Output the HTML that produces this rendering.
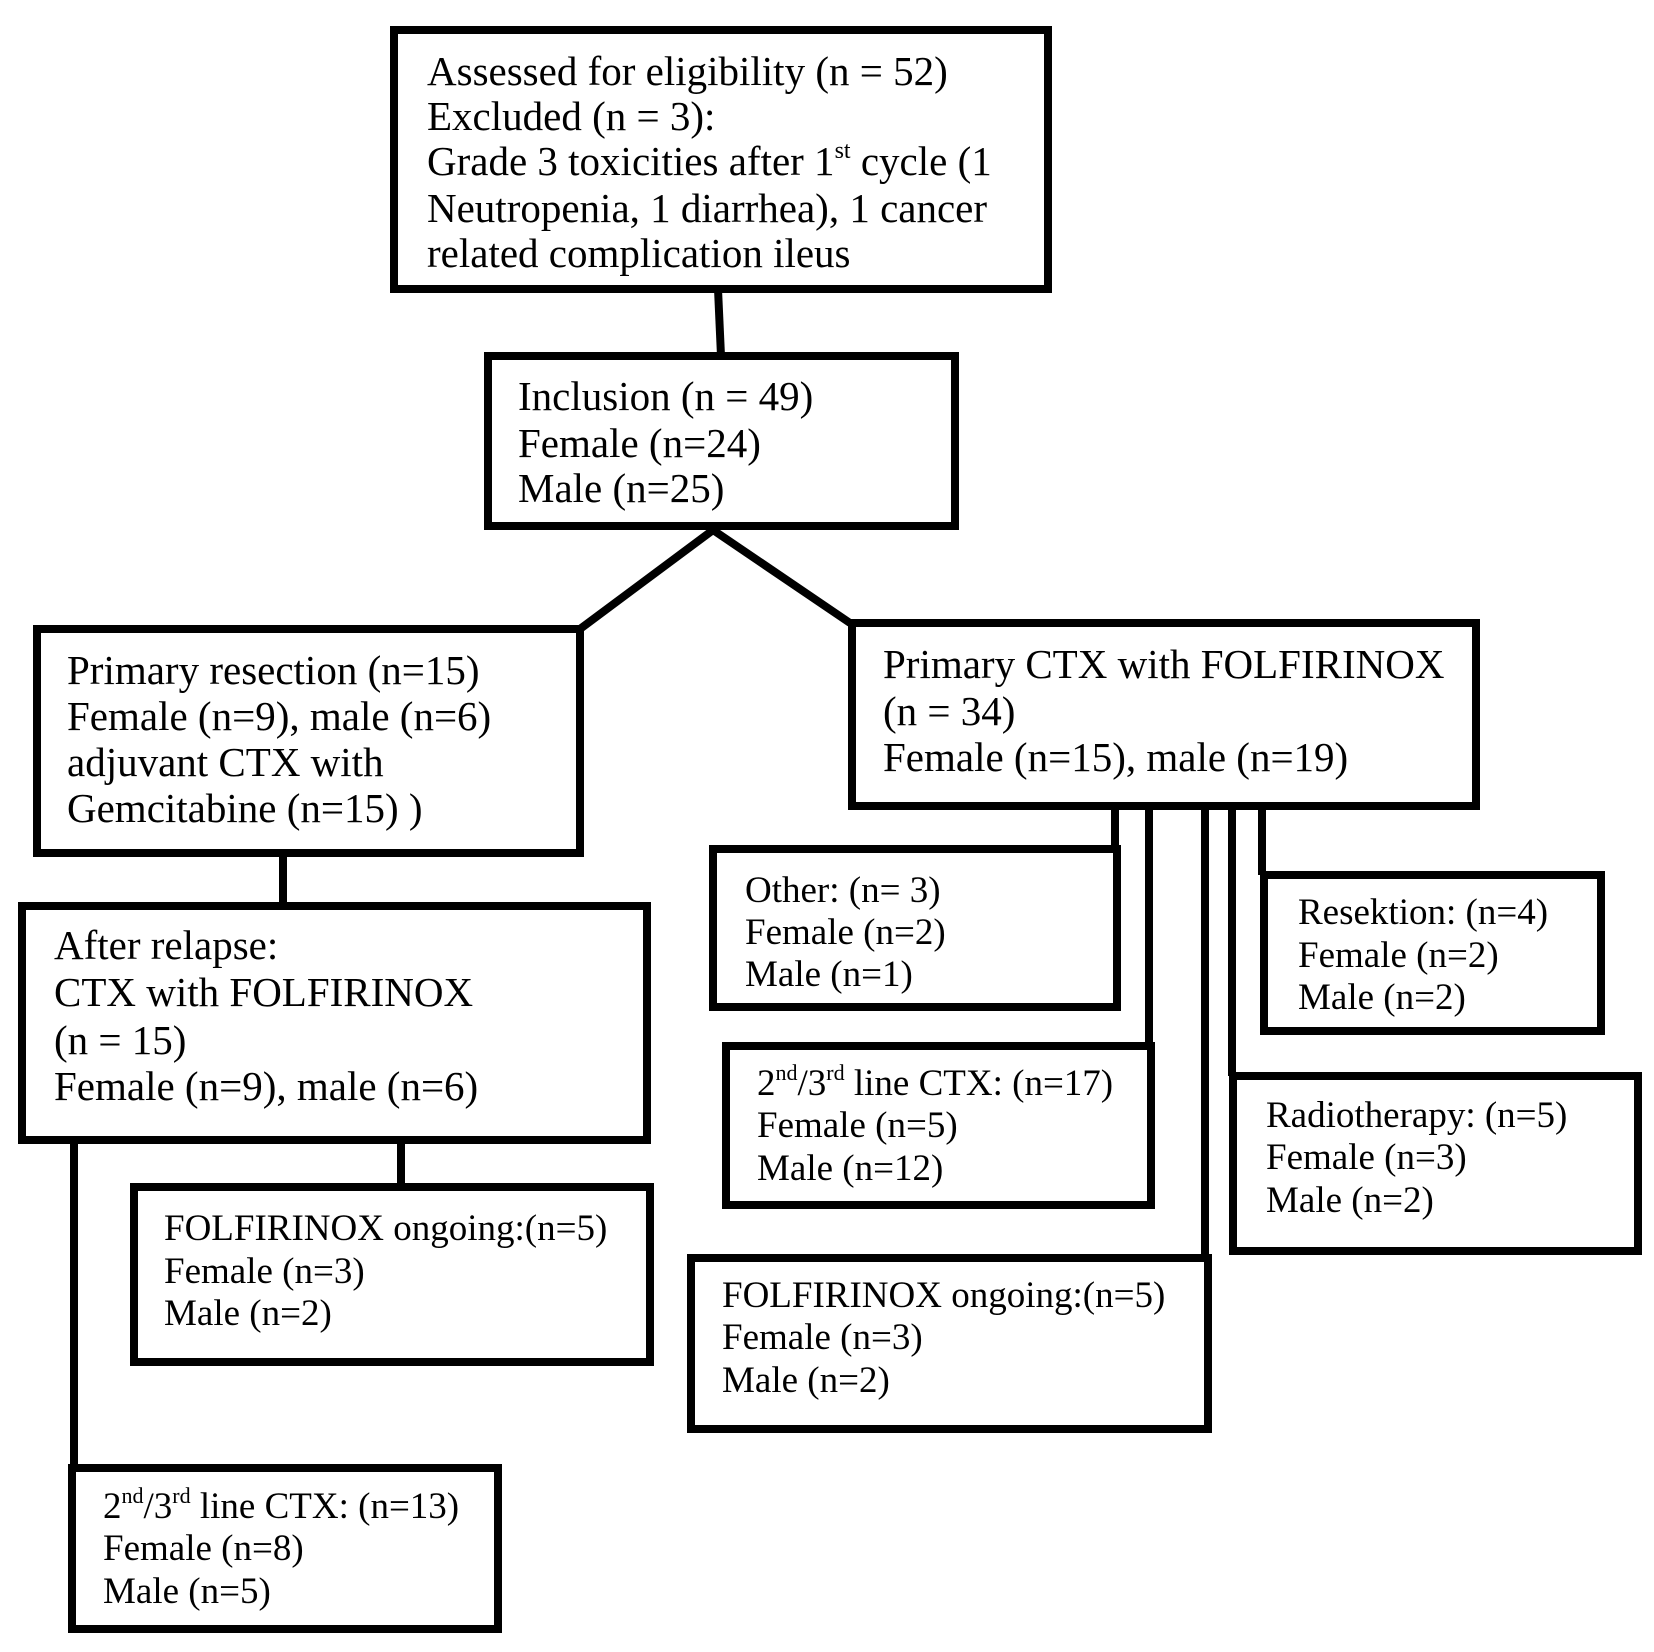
<!DOCTYPE html>
<html><head><meta charset="utf-8"><style>
html,body{margin:0;padding:0;background:#fff;}
svg{display:block;}
text{font-family:"Liberation Serif",serif;fill:#000;}
.b{font-size:41px;}
.s{font-size:37px;}
</style></head><body>
<svg width="1654" height="1652" viewBox="0 0 1654 1652" xmlns="http://www.w3.org/2000/svg">
<g fill="none" stroke="#000" stroke-width="8">
<rect x="394" y="30" width="654" height="259"/>
<rect x="488" y="356" width="467" height="170"/>
<rect x="37" y="629" width="543" height="224"/>
<rect x="852" y="623" width="624" height="183"/>
<rect x="22" y="906" width="625" height="234"/>
<rect x="134" y="1187" width="516" height="175"/>
<rect x="72" y="1468" width="426" height="161"/>
<rect x="713" y="849" width="404" height="158"/>
<rect x="726" y="1046" width="425" height="159"/>
<rect x="691" y="1258" width="517" height="171"/>
<rect x="1233" y="1076" width="405" height="175"/>
<rect x="1264" y="875" width="337" height="156"/>
<line x1="718" y1="289" x2="721" y2="356"/>
<polyline points="580,629 713,530 850,623"/>
<line x1="283" y1="853" x2="283" y2="906"/>
<line x1="74" y1="1140" x2="74" y2="1468"/>
<line x1="401" y1="1140" x2="401" y2="1187"/>
<line x1="1115" y1="806" x2="1115" y2="849"/>
<line x1="1149" y1="806" x2="1149" y2="1046"/>
<line x1="1205" y1="806" x2="1205" y2="1258"/>
<line x1="1232" y1="806" x2="1232" y2="1076"/>
<line x1="1262" y1="806" x2="1262" y2="875"/>
</g>
<g class="b">
<text x="427" y="85" class="b">Assessed for eligibility (n = 52)</text>
<text x="427" y="130" class="b">Excluded (n = 3):</text>
<text x="427" y="175" class="b">Grade 3 toxicities after 1<tspan font-size="24" dy="-17">st</tspan><tspan dy="17"> cycle (1</tspan></text>
<text x="427" y="222" class="b">Neutropenia, 1 diarrhea), 1 cancer</text>
<text x="427" y="267" class="b">related complication ileus</text>

<text x="518" y="410" class="b">Inclusion (n = 49)</text>
<text x="518" y="457" class="b">Female (n=24)</text>
<text x="518" y="502" class="b">Male (n=25)</text>

<text x="67" y="684" class="b">Primary resection (n=15)</text>
<text x="67" y="730" class="b">Female (n=9), male (n=6)</text>
<text x="67" y="776" class="b">adjuvant CTX with</text>
<text x="67" y="822" class="b">Gemcitabine (n=15) )</text>

<text x="883" y="678" class="b">Primary CTX with FOLFIRINOX</text>
<text x="883" y="725" class="b">(n = 34)</text>
<text x="883" y="771" class="b">Female (n=15), male (n=19)</text>

<text x="54" y="959" class="b">After relapse:</text>
<text x="54" y="1006" class="b">CTX with FOLFIRINOX</text>
<text x="54" y="1054" class="b">(n = 15)</text>
<text x="54" y="1100" class="b">Female (n=9), male (n=6)</text>
</g>
<g>
<text x="164" y="1240" class="s">FOLFIRINOX ongoing:(n=5)</text>
<text x="164" y="1283" class="s">Female (n=3)</text>
<text x="164" y="1325" class="s">Male (n=2)</text>

<text x="103" y="1518" class="s">2<tspan font-size="22" dy="-15">nd</tspan><tspan dy="15">/3</tspan><tspan font-size="22" dy="-15">rd</tspan><tspan dy="15"> line CTX: (n=13)</tspan></text>
<text x="103" y="1560" class="s">Female (n=8)</text>
<text x="103" y="1603" class="s">Male (n=5)</text>

<text x="745" y="902" class="s">Other: (n= 3)</text>
<text x="745" y="944" class="s">Female (n=2)</text>
<text x="745" y="986" class="s">Male (n=1)</text>

<text x="757" y="1095" class="s">2<tspan font-size="22" dy="-15">nd</tspan><tspan dy="15">/3</tspan><tspan font-size="22" dy="-15">rd</tspan><tspan dy="15"> line CTX: (n=17)</tspan></text>
<text x="757" y="1137" class="s">Female (n=5)</text>
<text x="757" y="1180" class="s">Male (n=12)</text>

<text x="722" y="1307" class="s">FOLFIRINOX ongoing:(n=5)</text>
<text x="722" y="1349" class="s">Female (n=3)</text>
<text x="722" y="1392" class="s">Male (n=2)</text>

<text x="1266" y="1127" class="s">Radiotherapy: (n=5)</text>
<text x="1266" y="1169" class="s">Female (n=3)</text>
<text x="1266" y="1212" class="s">Male (n=2)</text>

<text x="1298" y="924" class="s">Resektion: (n=4)</text>
<text x="1298" y="967" class="s">Female (n=2)</text>
<text x="1298" y="1009" class="s">Male (n=2)</text>
</g>
</svg>
</body></html>
